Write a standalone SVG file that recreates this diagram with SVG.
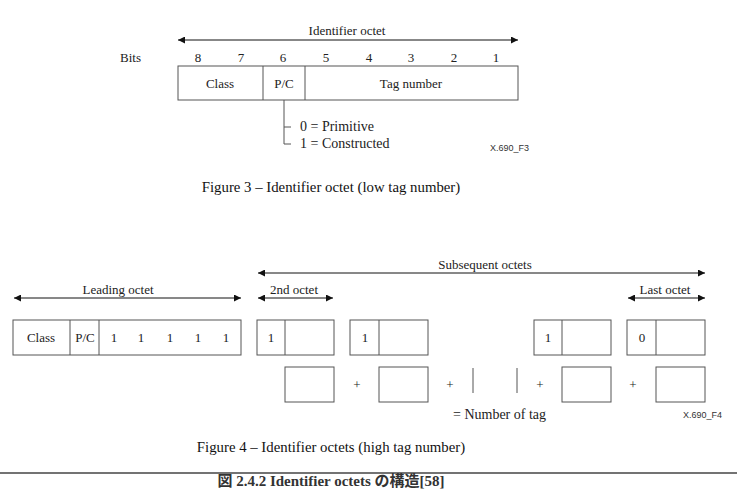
<svg xmlns="http://www.w3.org/2000/svg" width="737" height="490" viewBox="0 0 737 490">
<style>
text{font-family:"Liberation Serif","Times New Roman",serif;font-size:13px;fill:#222}
.c{text-anchor:middle}
.lg{font-size:14px}
.cap{font-size:14.8px;fill:#111}
.code{font-family:"Liberation Sans",Arial,sans-serif;font-size:9px;fill:#333}
.box{fill:#fff;stroke:#555;stroke-width:1}
.ln{stroke:#555;stroke-width:1;fill:none}
.arr{stroke:#111;stroke-width:1;fill:none;marker-start:url(#ah);marker-end:url(#ah)}
</style>
<defs>
<marker id="ah" viewBox="0 0 10 10" refX="10" refY="5" markerWidth="8" markerHeight="7" orient="auto-start-reverse" markerUnits="userSpaceOnUse">
<path d="M0,0 L10,5 L0,10 z" fill="#111"/>
</marker>
</defs>
<rect width="737" height="490" fill="#fff"/>

<g id="connectors">
<line class="arr" x1="178" y1="40" x2="518" y2="40"/>
<line class="arr" x1="258" y1="273" x2="705" y2="273"/>
<line class="arr" x1="14" y1="298" x2="241" y2="298"/>
<line class="arr" x1="258" y1="298" x2="333" y2="298"/>
<line class="arr" x1="628" y1="298" x2="705" y2="298"/>
<path class="ln" d="M284,100 V144 H291 M284,127 H291"/>
</g>

<g id="fig3">
<text class="c" x="347" y="35">Identifier octet</text>
<text x="120" y="62">Bits</text>
<g id="bits">
<text class="c" x="198" y="62">8</text>
<text class="c" x="241" y="62">7</text>
<text class="c" x="283" y="62">6</text>
<text class="c" x="326" y="62">5</text>
<text class="c" x="369" y="62">4</text>
<text class="c" x="411" y="62">3</text>
<text class="c" x="454" y="62">2</text>
<text class="c" x="496" y="62">1</text>
</g>
<g id="octet3">
<rect class="box" x="178" y="66" width="340" height="34"/>
<line class="ln" x1="263" y1="66" x2="263" y2="100"/>
<line class="ln" x1="305" y1="66" x2="305" y2="100"/>
<text class="c" x="220" y="88">Class</text>
<text class="c" x="284" y="88">P/C</text>
<text class="c" x="411" y="88">Tag number</text>
</g>
<g id="pc-legend">
<text class="lg" x="300" y="131">0 = Primitive</text>
<text class="lg" x="300" y="148">1 = Constructed</text>
</g>
<text class="code" x="490" y="151">X.690_F3</text>
<text class="c cap" x="331" y="192">Figure 3 – Identifier octet (low tag number)</text>
</g>

<g id="fig4">
<text class="c" x="485" y="269">Subsequent octets</text>
<text class="c" x="118" y="294">Leading octet</text>
<text class="c" x="294" y="294">2nd octet</text>
<text class="c" x="665" y="294">Last octet</text>

<g id="leading">
<rect class="box" x="13" y="320" width="228" height="35"/>
<line class="ln" x1="70" y1="320" x2="70" y2="355"/>
<line class="ln" x1="99" y1="320" x2="99" y2="355"/>
<text class="c" x="41" y="342">Class</text>
<text class="c" x="85" y="342">P/C</text>
<text class="c" x="114" y="342">1</text>
<text class="c" x="141" y="342">1</text>
<text class="c" x="170" y="342">1</text>
<text class="c" x="198" y="342">1</text>
<text class="c" x="226" y="342">1</text>
</g>
<g id="octet2">
<rect class="box" x="257" y="320" width="77" height="35"/>
<line class="ln" x1="285" y1="320" x2="285" y2="355"/>
<text class="c" x="271" y="342">1</text>
</g>
<g id="octet3b">
<rect class="box" x="350" y="320" width="78" height="35"/>
<line class="ln" x1="379" y1="320" x2="379" y2="355"/>
<text class="c" x="365" y="342">1</text>
</g>
<g id="octet4">
<rect class="box" x="534" y="320" width="77" height="35"/>
<line class="ln" x1="562" y1="320" x2="562" y2="355"/>
<text class="c" x="548" y="342">1</text>
</g>
<g id="octetlast">
<rect class="box" x="627" y="320" width="78" height="35"/>
<line class="ln" x1="656" y1="320" x2="656" y2="355"/>
<text class="c" x="642" y="342">0</text>
</g>

<g id="sum">
<rect class="box" x="285" y="367" width="49" height="35"/>
<text class="c" x="357" y="389">+</text>
<rect class="box" x="379" y="367" width="49" height="35"/>
<text class="c" x="450" y="389">+</text>
<line class="ln" x1="473" y1="368" x2="473" y2="393"/>
<line class="ln" x1="517" y1="368" x2="517" y2="393"/>
<text class="c" x="540" y="389">+</text>
<rect class="box" x="562" y="367" width="49" height="35"/>
<text class="c" x="633" y="389">+</text>
<rect class="box" x="656" y="367" width="49" height="35"/>
<text class="lg" x="453" y="419">= Number of tag</text>
</g>
<text class="code" x="683" y="418">X.690_F4</text>
<text class="c cap" x="331" y="452">Figure 4 – Identifier octets (high tag number)</text>
</g>

<line x1="0" y1="473" x2="737" y2="473" stroke="#444" stroke-width="1.5"/>
<text class="c" x="331" y="486" style="font-family:'Liberation Serif','Noto Sans CJK JP',serif;font-size:15px;font-weight:bold;fill:#333">図 2.4.2 Identifier octets の構造[58]</text>
</svg>
